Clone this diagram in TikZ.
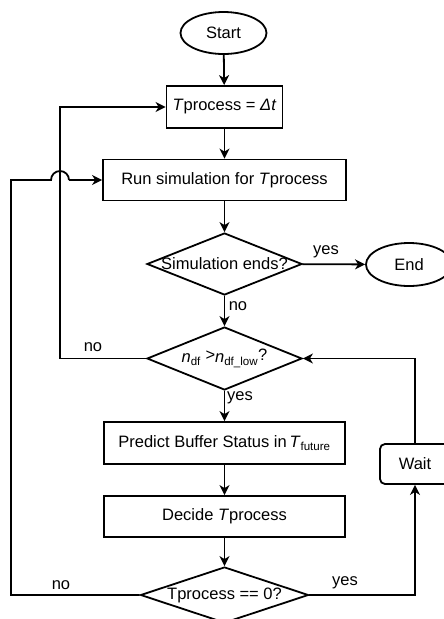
\documentclass[tikz,border=0pt]{standalone}
\usepackage{fontspec}
\setmainfont{Liberation Sans}
\usetikzlibrary{shapes.geometric,arrows.meta}

\tikzset{
  base/.style={draw, line width=1.8pt, inner sep=0pt, font=\fontsize{16.5}{18}\selectfont},
  term/.style={base, ellipse},
  proc/.style={base, rectangle},
  decision/.style={base, diamond},
  lbl/.style={font=\fontsize{16.5}{18}\selectfont, inner sep=0pt},
  flow/.style={line width=1.8pt, -{Stealth[length=10pt,width=10pt,inset=3pt]}},
  plain/.style={line width=1.8pt}
}

\begin{document}
\begin{tikzpicture}[x=1pt,y=-1pt]
\useasboundingbox (0,0) rectangle (444,619);

% main column
\node[term, minimum width=86pt, minimum height=42pt] (start) at (223.5,33) {Start};
\node[proc, minimum width=116pt, minimum height=42pt] (init) at (224.5,107) {\textit{T}process = \textit{Δt}};
\node[proc, minimum width=243pt, minimum height=41pt] (run) at (224.5,180) {Run simulation for \textit{T}process};
\node[decision, minimum width=155pt, minimum height=62pt, label=center:{\fontsize{16.5}{18}\selectfont Simulation ends?}] (ends) at (224.5,264) {};
\node[term, minimum width=86pt, minimum height=43pt] (stop) at (409,264.5) {End};
\node[decision, minimum width=155pt, minimum height=63pt, label=center:{\fontsize{16.5}{18}\selectfont \textit{n}\textsubscript{df} \raisebox{2pt}{>}\textit{n}\textsubscript{df\_low}\raisebox{2pt}{?}}] (ndf) at (224.5,358.5) {};
\node[proc, minimum width=241pt, minimum height=42pt] (pred) at (224.5,443) {Predict Buffer Status in\,\textit{T}\textsubscript{future}};
\node[proc, minimum width=241pt, minimum height=41pt] (decide) at (224.5,516.5) {Decide \textit{T}process};
\node[decision, minimum width=168pt, minimum height=56pt, label=center:{\fontsize{16.5}{18}\selectfont Tprocess == 0?}] (zero) at (224.5,595) {};
\node[proc, rounded corners=5pt, minimum width=70pt, minimum height=40pt] (wait) at (415,464) {Wait};

% helper coordinates for the side loops
\coordinate (outer) at (11,0);
\coordinate (inner) at (60,0);
\coordinate (right) at (415,0);

% straight flow
\draw[flow] (start) -- (init);
\draw[flow] (init) -- (run);
\draw[flow] (run) -- (ends);
\draw[flow] (ends) -- (stop);
\draw[flow] (ends) -- (ndf);
\draw[flow] (ndf) -- (pred);
\draw[flow] (pred) -- (decide);
\draw[flow] (decide) -- (zero);

% no: back to the interval reset
\draw[flow] (ndf.west) -- (ndf.west -| inner) |- (init.west);

% no: back to the simulation, hopping over the inner loop
\draw[plain] (zero.west) -- (zero.west -| outer) -- (run.west -| outer) -- ([xshift=-9pt]run.west -| inner)
  arc[start angle=180, end angle=360, radius=9];
\draw[flow] ([xshift=9pt]run.west -| inner) -- (run.west);

% yes: wait, then check again
\draw[flow] (zero.east) -| (wait.south);
\draw[flow] (wait.north) |- (ndf.east);

% branch labels
\node[lbl] (l1) at (326,252) {yes};
\node[lbl] (l2) at (238,306) {no};
\node[lbl] (l3) at (93,347) {no};
\node[lbl] (l4) at (240,398) {yes};
\node[lbl] (l5) at (61,585) {no};
\node[lbl] (l6) at (345,583) {yes};
\end{tikzpicture}
\end{document}
